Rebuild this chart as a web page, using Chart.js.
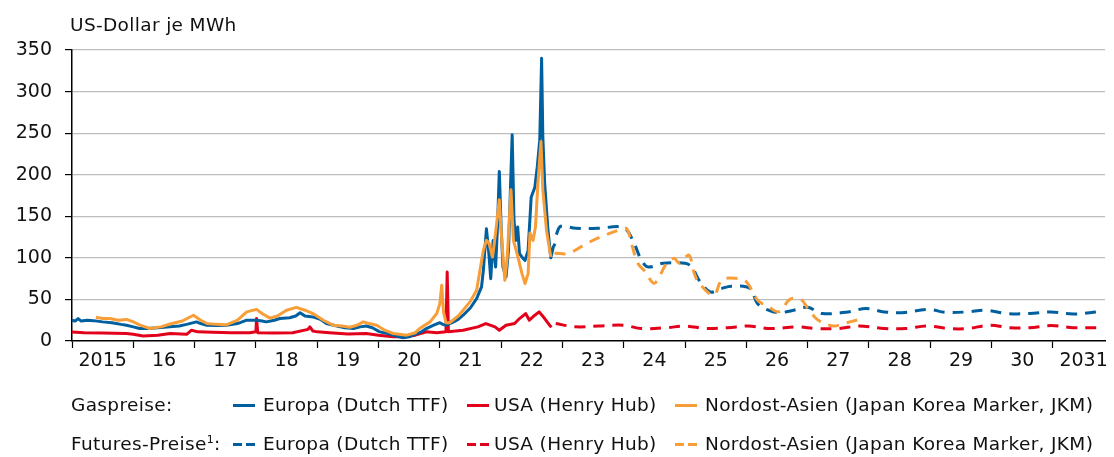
<!DOCTYPE html>
<html>
<head>
<meta charset="utf-8">
<script src="https://cdn.jsdelivr.net/npm/chart.js@4/dist/chart.umd.min.js"></script>
<style>
  html, body { margin: 0; padding: 0; background: #fff; }
  #wrap { position: relative; width: 1114px; height: 457px; font-family: "DejaVu Sans", sans-serif; color: #111; }
  #chart { position: absolute; left: 0; top: 0; }
  .txt { position: absolute; font-size: 18.5px; letter-spacing: 0.35px; white-space: nowrap; line-height: 22px; }
  .sw { position: absolute; width: 22px; height: 3px; }
  .sw.dash { width: 9px; }
  sup { font-size: 11px; vertical-align: 7px; line-height: 0; }
</style>
</head>
<body>
<div id="wrap">
  <canvas id="chart" width="1114" height="457"></canvas>
  <div class="txt" style="left:70px; top:14px;">US-Dollar je MWh</div>

  <div class="txt" style="left:71px; top:394px;">Gaspreise:</div>
  <div class="sw" style="left:233px; top:404px; background:#005f9e;"></div>
  <div class="txt" style="left:263px; top:394px;">Europa (Dutch TTF)</div>
  <div class="sw" style="left:467px; top:404px; background:#e2001a;"></div>
  <div class="txt" style="left:494px; top:394px;">USA (Henry Hub)</div>
  <div class="sw" style="left:675px; top:404px; background:#f79e38;"></div>
  <div class="txt" style="left:705px; top:394px;">Nordost-Asien (Japan Korea Marker, JKM)</div>

  <div class="txt" style="left:71px; top:433px;">Futures-Preise<sup>1</sup>:</div>
  <div class="sw dash" style="left:233px; top:443px; background:#005f9e;"></div>
  <div class="sw dash" style="left:246px; top:443px; background:#005f9e;"></div>
  <div class="txt" style="left:263px; top:433px;">Europa (Dutch TTF)</div>
  <div class="sw dash" style="left:467px; top:443px; background:#e2001a;"></div>
  <div class="sw dash" style="left:480px; top:443px; background:#e2001a;"></div>
  <div class="txt" style="left:494px; top:433px;">USA (Henry Hub)</div>
  <div class="sw dash" style="left:675px; top:443px; background:#f79e38;"></div>
  <div class="sw dash" style="left:688px; top:443px; background:#f79e38;"></div>
  <div class="txt" style="left:705px; top:433px;">Nordost-Asien (Japan Korea Marker, JKM)</div>
</div>
<script>
// Zeitachse in Dezimaljahren, Werte in US-Dollar je MWh
const yearTicks = [2015, 2016, 2017, 2018, 2019, 2020, 2021, 2022, 2023, 2024, 2025, 2026, 2027, 2028, 2029, 2030, 2031];
const yearLabels = ['2015', '16', '17', '18', '19', '20', '21', '22', '23', '24', '25', '26', '27', '28', '29', '30', '2031'];
const yTicks = [0, 50, 100, 150, 200, 250, 300, 350];

// Europa (Dutch TTF), Spot
const ttfT = [2014.99, 2015.05, 2015.1, 2015.15, 2015.25, 2015.35, 2015.5, 2015.65, 2015.8, 2015.89, 2016.0, 2016.1, 2016.22, 2016.4, 2016.6, 2016.75, 2016.87, 2017.03, 2017.1, 2017.2, 2017.35, 2017.52, 2017.7, 2017.85, 2018.01, 2018.1, 2018.17, 2018.3, 2018.39, 2018.55, 2018.65, 2018.72, 2018.8, 2018.93, 2019.05, 2019.15, 2019.32, 2019.45, 2019.59, 2019.7, 2019.8, 2019.9, 2020.02, 2020.15, 2020.24, 2020.4, 2020.5, 2020.56, 2020.7, 2020.78, 2020.9, 2021.0, 2021.05, 2021.1, 2021.2, 2021.3, 2021.38, 2021.5, 2021.6, 2021.68, 2021.71, 2021.73, 2021.76, 2021.8, 2021.83, 2021.87, 2021.91, 2021.94, 2021.97, 2022.0, 2022.03, 2022.08, 2022.12, 2022.16, 2022.18, 2022.21, 2022.24, 2022.27, 2022.3, 2022.35, 2022.39, 2022.44, 2022.49, 2022.55, 2022.59, 2022.63, 2022.66, 2022.68, 2022.71, 2022.76, 2022.81, 2022.85, 2022.88];
const ttfV = [25, 24, 27, 24, 25, 24.5, 23, 22, 20, 19, 17, 15, 15, 16, 17, 18, 20, 23, 21, 19, 18.5, 19, 21, 25, 25, 24, 23, 25, 27, 28, 30, 34, 30, 29, 26, 21, 18, 16, 15, 17, 18, 16, 11, 9, 7, 4, 5, 7, 11, 15, 19, 22, 20, 19, 22, 26, 31, 40, 51, 65, 85, 105, 135, 105, 75, 121, 89, 137, 204, 137, 89, 77, 109, 202, 248, 145, 121, 137, 105, 100, 97, 109, 173, 185, 210, 242, 340, 246, 190, 137, 100, 113, 117];

// USA (Henry Hub), Spot
const hhT = [2014.99, 2015.2, 2015.5, 2015.89, 2016.0, 2016.16, 2016.4, 2016.6, 2016.87, 2016.95, 2017.05, 2017.3, 2017.6, 2017.9, 2018.0, 2018.01, 2018.03, 2018.3, 2018.6, 2018.85, 2018.88, 2018.93, 2019.0, 2019.2, 2019.5, 2019.8, 2020.0, 2020.24, 2020.45, 2020.6, 2020.78, 2020.95, 2021.1, 2021.12, 2021.14, 2021.38, 2021.62, 2021.75, 2021.9, 2021.97, 2022.08, 2022.22, 2022.3, 2022.4, 2022.46, 2022.55, 2022.62, 2022.71, 2022.79, 2022.82];
const hhV = [11, 10, 9.5, 9, 8, 6, 7, 9, 8, 13, 11, 10.5, 10, 10, 11, 27, 10, 9.5, 10, 14, 17, 12, 11, 10, 8.5, 9, 7, 5, 5, 7, 11, 10, 11, 83, 11, 13, 17, 21, 17, 13, 19, 21, 27, 33, 25, 31, 35, 27, 19, 16.5];

// Nordost-Asien (JKM), Spot
const jkmT = [2015.39, 2015.5, 2015.62, 2015.75, 2015.89, 2016.0, 2016.11, 2016.27, 2016.45, 2016.6, 2016.8, 2016.98, 2017.1, 2017.2, 2017.35, 2017.52, 2017.7, 2017.85, 2018.01, 2018.1, 2018.23, 2018.35, 2018.5, 2018.66, 2018.8, 2018.93, 2019.1, 2019.26, 2019.4, 2019.53, 2019.65, 2019.75, 2019.85, 2019.97, 2020.1, 2020.24, 2020.46, 2020.6, 2020.67, 2020.84, 2020.95, 2021.0, 2021.03, 2021.06, 2021.1, 2021.16, 2021.3, 2021.38, 2021.5, 2021.6, 2021.71, 2021.76, 2021.8, 2021.86, 2021.92, 2021.97, 2022.01, 2022.06, 2022.1, 2022.16, 2022.2, 2022.26, 2022.34, 2022.39, 2022.44, 2022.47, 2022.52, 2022.56, 2022.6, 2022.65, 2022.68, 2022.74, 2022.81];
const jkmV = [28.5, 27, 27, 25, 26, 23, 19, 15, 17, 20.5, 24, 31, 25, 21, 20, 19.5, 25, 35, 38, 33, 27.5, 30, 37, 40.5, 37, 33, 25, 19, 18, 16.5, 19, 23, 21, 19, 13, 9, 7, 10, 15, 23, 33, 45, 67, 35, 22, 22, 30, 37, 48, 61, 109, 121, 118, 101, 137, 170, 121, 73, 101, 182, 121, 105, 81, 69, 81, 130, 121, 137, 190, 240, 182, 133, 101];

// Futures-Preise
const ttfFutT = [2022.9, 2022.97, 2023.22, 2023.58, 2023.93, 2024.05, 2024.17, 2024.29, 2024.4, 2024.64, 2025.0, 2025.11, 2025.23, 2025.41, 2025.59, 2025.76, 2026.06, 2026.18, 2026.36, 2026.53, 2026.77, 2027.0, 2027.24, 2027.66, 2027.95, 2028.25, 2028.54, 2028.96, 2029.25, 2029.61, 2029.9, 2030.26, 2030.62, 2030.97, 2031.33, 2031.74];
const ttfFutV = [128, 138, 135.5, 135.5, 137.5, 133.5, 117.5, 97, 89, 93.5, 93.5, 89, 73, 59, 63, 66, 63, 45, 37, 34, 37, 40.5, 33, 35, 39, 35, 34, 38, 34.5, 35, 37, 33, 33, 35, 32.5, 35];
const hhFutT = [2022.89, 2023.22, 2023.58, 2023.99, 2024.29, 2024.7, 2025.0, 2025.35, 2025.7, 2026.03, 2026.4, 2026.83, 2027.13, 2027.5, 2027.84, 2028.25, 2028.6, 2028.96, 2029.3, 2029.61, 2029.97, 2030.3, 2030.62, 2030.97, 2031.33, 2031.74];
const hhFutV = [21, 17, 18, 19, 15, 16, 18, 15, 16, 18, 15, 17, 15, 15, 18, 15, 15, 18, 15, 15, 19, 16, 16, 18.5, 16, 16];
const jkmFutT = [2022.87, 2023.1, 2023.4, 2023.7, 2023.93, 2024.05, 2024.14, 2024.23, 2024.35, 2024.49, 2024.58, 2024.7, 2024.82, 2024.91, 2025.06, 2025.15, 2025.23, 2025.47, 2025.6, 2025.83, 2026.0, 2026.18, 2026.36, 2026.53, 2026.71, 2026.89, 2027.0, 2027.17, 2027.42, 2027.6, 2027.81];
const jkmFutV = [105.5, 105.5, 117.5, 127.5, 133.5, 135, 113.5, 93.5, 83.4, 69.4, 77.3, 93.5, 99.5, 93.5, 103.4, 81.4, 69.4, 55.3, 73.4, 75.4, 71.3, 49.3, 41.3, 35.2, 50, 50, 39.3, 25.3, 18, 21.3, 25.3];

const BLUE = '#005f9e', RED = '#e2001a', ORANGE = '#f79e38';
const FONT = { family: '"DejaVu Sans", sans-serif', size: 19 };

function pts(t, v) {
    return t.map((x, i) => ({ x: x, y: v[i] }));
}

function line(data, color, dashed) {
    return {
        data: data,
        borderColor: color,
        borderWidth: 3,
        borderDash: dashed ? [11, 8] : [],
        pointRadius: 0,
        fill: false,
        tension: dashed ? 0.35 : 0,
        borderJoinStyle: 'round'
    };
}

const ctx = document.getElementById('chart').getContext('2d');
new Chart(ctx, {
    type: 'line',
    data: {
        datasets: [
            line(pts(jkmT, jkmV), ORANGE, false),
            line(pts(ttfT, ttfV), BLUE, false),
            line(pts(hhT, hhV), RED, false),
            line(pts(jkmFutT, jkmFutV), ORANGE, true),
            line(pts(ttfFutT, ttfFutV), BLUE, true),
            line(pts(hhFutT, hhFutV), RED, true)
        ]
    },
    options: {
        responsive: false,
        animation: false,
        layout: { padding: { top: 50, right: 9, bottom: 86, left: 0 } },
        plugins: { legend: { display: false }, tooltip: { enabled: false } },
        scales: {
            x: {
                type: 'linear',
                min: 2015,
                max: 2031.85,
                afterBuildTicks: s => { s.ticks = yearTicks.map(v => ({ value: v })); },
                afterFit: s => { s.height = 30; },
                grid: { drawOnChartArea: false, tickLength: 7, tickColor: '#000', tickWidth: 1.2 },
                border: { color: '#000', width: 1.5 },
                ticks: {
                    autoSkip: false,
                    maxRotation: 0,
                    labelOffset: 30.7,
                    padding: 2,
                    color: '#111',
                    font: FONT,
                    callback: (v, i) => yearLabels[i]
                }
            },
            y: {
                min: 0,
                max: 350,
                afterBuildTicks: s => { s.ticks = yTicks.map(v => ({ value: v })); },
                afterFit: s => { s.width = 72; },
                grid: {
                    color: c => c.tick && c.tick.value === 0 ? 'rgba(0,0,0,0)' : '#bdbdbd',
                    lineWidth: 1.2,
                    tickLength: 7,
                    tickColor: '#000',
                    tickWidth: 1.2
                },
                border: { color: '#000', width: 1.5 },
                ticks: { padding: 13, color: '#111', font: FONT }
            }
        }
    }
});
</script>
</body>
</html>
